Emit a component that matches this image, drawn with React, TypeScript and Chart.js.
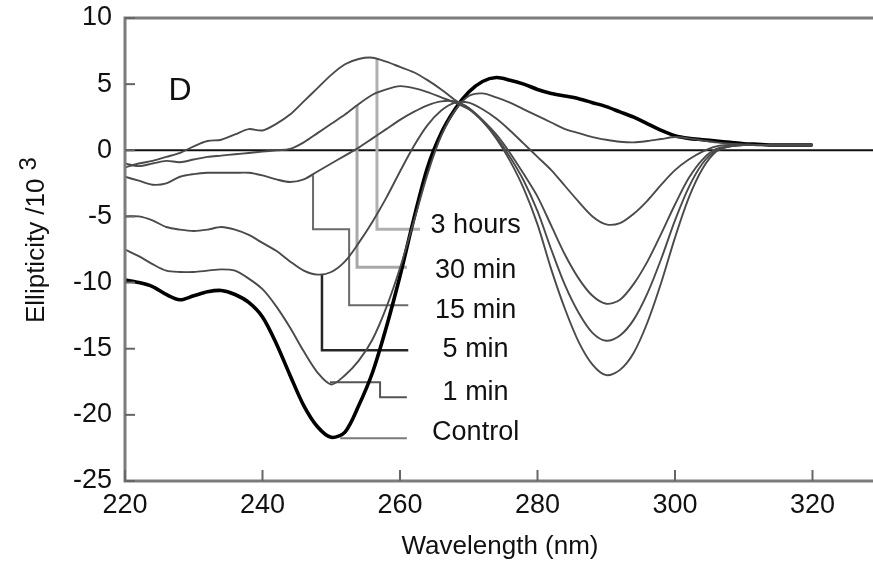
import React, { useEffect, useRef } from "react";
import { Chart, registerables } from "chart.js";

Chart.register(...registerables);

// ---------- data ----------
const wavelengths = [
  220, 222, 224, 226, 228, 230, 232, 234, 236, 238, 240, 242, 244, 246, 248, 250, 252,
  254, 256, 258, 260, 262, 264, 266, 268, 270, 272, 274, 276, 278, 280, 282, 284, 286,
  288, 290, 292, 294, 296, 298, 300, 302, 304, 306, 308, 310, 312, 314, 316, 318, 320,
];

const control = [
  -9.8, -10.0, -10.3, -10.9, -11.3, -11.0, -10.7, -10.6, -10.9, -11.5, -12.6, -14.6, -17.0,
  -19.3, -20.9, -21.7, -21.3, -19.3, -16.8, -13.4, -9.5, -5.2, -1.3, 1.3, 3.1, 4.4, 5.2, 5.5,
  5.3, 5.0, 4.6, 4.3, 4.1, 3.9, 3.6, 3.3, 2.9, 2.5, 2.0, 1.5, 1.1, 0.9, 0.8, 0.7, 0.6, 0.5,
  0.45, 0.4, 0.4, 0.4, 0.4,
];

const min1 = [
  -7.5, -8.0, -8.6, -9.1, -9.2, -9.2, -9.1, -9.0, -9.1, -9.7, -10.5, -11.8, -13.4, -15.2,
  -16.8, -17.7, -17.0, -15.9, -14.3, -11.9, -8.9, -5.4, -1.8, 1.1, 3.0, 4.1, 4.3, 4.0, 3.6,
  3.1, 2.6, 2.1, 1.6, 1.3, 1.0, 0.8, 0.65, 0.6, 0.7, 0.85, 1.0, 0.9, 0.75, 0.6, 0.5, 0.45,
  0.4, 0.4, 0.4, 0.4, 0.4,
];

const min5 = [
  -5.0, -5.0, -5.3, -5.8, -6.0, -6.1, -6.0, -5.8, -6.0, -6.4, -7.0, -7.6, -8.4, -9.1, -9.4,
  -9.2, -8.4, -7.0, -5.4, -3.6, -1.6, 0.3, 1.9, 3.0, 3.6, 3.6, 3.1, 2.4, 1.5, 0.5, -0.5,
  -1.5, -2.7, -3.9, -5.0, -5.6, -5.5, -4.8, -3.8, -2.6, -1.5, -0.7, -0.1, 0.3, 0.4, 0.4,
  0.4, 0.4, 0.4, 0.4, 0.4,
];

const min15 = [
  -2.0, -2.3, -2.6, -2.5, -2.0, -1.8, -1.7, -1.7, -1.7, -1.7, -1.9, -2.2, -2.4, -2.2, -1.6,
  -1.0, -0.4, 0.2, 0.9, 1.6, 2.3, 2.9, 3.4, 3.7, 3.7, 3.2, 2.3, 1.2, -0.2, -1.8, -3.5, -5.7,
  -7.9, -9.7, -11.0, -11.6, -11.3, -10.1, -8.4, -6.3, -4.1, -2.1, -0.7, 0.1, 0.3, 0.4, 0.4,
  0.4, 0.4, 0.4, 0.4,
];

const min30 = [
  -1.0, -1.2, -1.0, -0.8, -0.9, -0.7, -0.5, -0.4, -0.3, -0.2, -0.1, 0.0, 0.1, 0.6, 1.3, 2.0,
  2.7, 3.5, 4.2, 4.6, 4.85, 4.7, 4.4, 4.0, 3.6, 3.1, 2.2, 1.0, -0.5, -2.3, -4.6, -7.5,
  -10.2, -12.3, -13.8, -14.4, -14.0, -12.8, -10.8, -8.2, -5.3, -2.8, -1.0, 0.0, 0.3, 0.4,
  0.4, 0.4, 0.4, 0.4, 0.4,
];

const hours3 = [
  -1.3, -1.0, -0.8, -0.5, -0.2, 0.3, 0.7, 0.8, 1.2, 1.6, 1.5, 2.0, 2.7, 3.7, 4.7, 5.7, 6.5,
  6.9, 7.0, 6.7, 6.3, 5.9, 5.3, 4.6, 3.8, 3.2, 2.2, 0.9, -0.8, -2.9, -5.6, -9.0, -12.0,
  -14.5, -16.2, -17.0, -16.6, -15.3, -13.0, -10.0, -6.6, -3.6, -1.4, -0.1, 0.3, 0.4, 0.4,
  0.4, 0.4, 0.4, 0.4,
];

const xTickValues = [220, 240, 260, 280, 300, 320];
const yTickValues = [-25, -20, -15, -10, -5, 0, 5, 10];

// series labels: text, label position [wavelength, value]
const seriesLabels = ["3 hours", "30 min", "15 min", "5 min", "1 min", "Control"];
const labelAnchors = [
  [271, -5.67],
  [271, -9.07],
  [271, -12.09],
  [271, -15.04],
  [271, -18.29],
  [271, -21.32],
];
// leader lines, in data coordinates
const leaderPaths = [
  [[256.65, 6.88], [256.65, -5.97], [262.9, -5.97]],
  [[253.75, 3.4], [253.75, -8.84], [261.0, -8.84]],
  [[247.35, -1.89], [247.35, -5.97], [252.6, -5.97], [252.6, -11.72], [261.2, -11.72]],
  [[248.65, -9.37], [248.65, -15.12], [261.2, -15.12]],
  [[249.8, -17.54], [257.1, -17.54], [257.1, -18.67], [261.0, -18.67]],
  [[251.3, -21.77], [261.0, -21.77]],
];
const leaderColors = ["#b0b0b0", "#a8a8a8", "#6a6a6a", "#262626", "#555555", "#7a7a7a"];
const leaderWidths = [3, 3, 2, 2.5, 2, 2];

const panelLetter = "D";
const panelAnchor = [228, 4.5];

const FONT = "'Liberation Sans', Arial, Helvetica, sans-serif";

const overlayPlugin = {
  id: "overlay",
  beforeDatasetsDraw(chart: any) {
    const { ctx, chartArea: a, scales } = chart;
    const x = scales.x;
    const y = scales.y;
    ctx.save();
    const y0 = y.getPixelForValue(0);
    ctx.strokeStyle = "#111";
    ctx.lineWidth = 2;
    ctx.beginPath();
    ctx.moveTo(a.left, y0);
    ctx.lineTo(a.right, y0);
    ctx.stroke();
    leaderPaths.forEach((path, i) => {
      ctx.strokeStyle = leaderColors[i];
      ctx.lineWidth = leaderWidths[i];
      ctx.lineJoin = "miter";
      ctx.beginPath();
      path.forEach((p, j) => {
        const px = x.getPixelForValue(p[0]);
        const py = y.getPixelForValue(p[1]);
        if (j === 0) ctx.moveTo(px, py);
        else ctx.lineTo(px, py);
      });
      ctx.stroke();
    });
    ctx.restore();
  },
  afterDatasetsDraw(chart: any) {
    const { ctx, chartArea: a, scales } = chart;
    const x = scales.x;
    const y = scales.y;
    ctx.save();
    ctx.strokeStyle = "#7c7c7c";
    ctx.lineWidth = 3;
    ctx.beginPath();
    ctx.moveTo(a.right, a.top);
    ctx.lineTo(a.left, a.top);
    ctx.lineTo(a.left, a.bottom);
    ctx.lineTo(a.right, a.bottom);
    ctx.stroke();
    ctx.lineWidth = 2;
    ctx.strokeStyle = "#666";
    yTickValues.forEach((v) => {
      const py = y.getPixelForValue(v);
      ctx.beginPath();
      ctx.moveTo(a.left, py);
      ctx.lineTo(a.left + 10, py);
      ctx.stroke();
    });
    xTickValues.forEach((v) => {
      const px = x.getPixelForValue(v);
      ctx.beginPath();
      ctx.moveTo(px, a.bottom);
      ctx.lineTo(px, a.bottom - 11);
      ctx.stroke();
    });
    ctx.fillStyle = "#111";
    ctx.font = `27px ${FONT}`;
    ctx.textAlign = "center";
    ctx.textBaseline = "middle";
    seriesLabels.forEach((t, i) => {
      ctx.fillText(t, x.getPixelForValue(labelAnchors[i][0]), y.getPixelForValue(labelAnchors[i][1]));
    });
    ctx.font = `32px ${FONT}`;
    ctx.fillText(panelLetter, x.getPixelForValue(panelAnchor[0]), y.getPixelForValue(panelAnchor[1]));
    ctx.font = `26px ${FONT}`;
    ctx.fillText("Wavelength (nm)", 500, 547);
    ctx.translate(37, 323);
    ctx.rotate(-Math.PI / 2);
    ctx.textAlign = "left";
    ctx.font = `26px ${FONT}`;
    const main = "Ellipticity /10";
    ctx.fillText(main, 0, 0);
    const w = ctx.measureText(main).width;
    ctx.font = `24px ${FONT}`;
    ctx.fillText("3", w + 8, -8);
    ctx.restore();
  },
};

export default function App() {
  const canvasRef = useRef<HTMLCanvasElement | null>(null);

  useEffect(() => {
    const canvas = canvasRef.current;
    if (!canvas) return;
    const mk = (vals: number[]) => wavelengths.map((w, i) => ({ x: w, y: vals[i] }));
    const thin = "#4a4a4a";
    const chart = new Chart(canvas, {
      type: "line",
      data: {
        datasets: [
          { label: "3 hours", data: mk(hours3), borderColor: thin, borderWidth: 1.9 },
          { label: "30 min", data: mk(min30), borderColor: thin, borderWidth: 1.9 },
          { label: "15 min", data: mk(min15), borderColor: thin, borderWidth: 1.9 },
          { label: "5 min", data: mk(min5), borderColor: thin, borderWidth: 1.9 },
          { label: "1 min", data: mk(min1), borderColor: thin, borderWidth: 1.9 },
          { label: "Control", data: mk(control), borderColor: "#000", borderWidth: 3.6 },
        ].map((d) => ({ ...d, pointRadius: 0, tension: 0.3, fill: false })) as any,
      },
      options: {
        animation: false,
        responsive: false,
        maintainAspectRatio: false,
        layout: { padding: { top: 18, right: 0, left: 0, bottom: 0 } },
        plugins: { legend: { display: false }, tooltip: { enabled: false } },
        scales: {
          x: {
            type: "linear",
            min: 220,
            max: 328.8,
            grid: { display: false, drawTicks: false },
            border: { display: false },
            ticks: {
              color: "#111",
              font: { family: FONT, size: 27 },
              padding: 8,
            },
            afterBuildTicks: (s: any) => {
              s.ticks = xTickValues.map((v) => ({ value: v }));
            },
            afterFit: (s: any) => {
              s.height = 82;
              s.paddingLeft = 0;
              s.paddingRight = 0;
            },
          },
          y: {
            type: "linear",
            min: -25,
            max: 10,
            grid: { display: false, drawTicks: false },
            border: { display: false },
            ticks: {
              color: "#111",
              font: { family: FONT, size: 27 },
              padding: 13,
            },
            afterBuildTicks: (s: any) => {
              s.ticks = yTickValues.map((v) => ({ value: v }));
            },
            afterFit: (s: any) => {
              s.width = 125;
              s.paddingTop = 0;
              s.paddingBottom = 0;
            },
          },
        },
      },
      plugins: [overlayPlugin],
    });
    return () => chart.destroy();
  }, []);

  return (
    <div style={{ position: "fixed", left: 0, top: 0, width: 873, height: 563, background: "#fff" }}>
      <canvas ref={canvasRef} width={873} height={563} style={{ display: "block" }} />
    </div>
  );
}
